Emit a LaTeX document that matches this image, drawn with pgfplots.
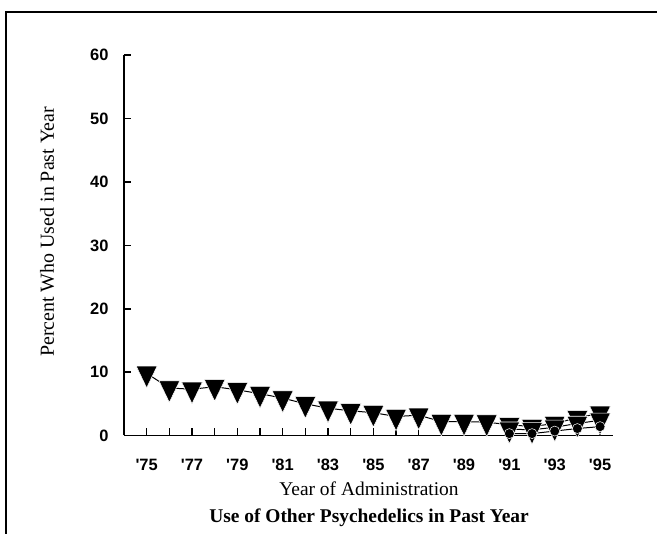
\documentclass[border=0pt]{standalone}
\usepackage{fontspec}
\setmainfont{Liberation Serif}
\newfontfamily\tickfont{Liberation Sans}[Ligatures=TeXOff]
\usepackage{pgfplots}
\pgfplotsset{compat=1.18}
\begin{document}
\begin{tikzpicture}[x=1bp,y=1bp]
\path[use as bounding box] (0,0) rectangle (657,534);
\draw[line width=2.4bp] (6,0) -- (6,522) -- (657,522);
\begin{axis}[
  at={(124bp,98.5bp)}, anchor=south west,
  scale only axis, width=488.5bp, height=380.2bp,
  xmin=1974.0, xmax=1995.55, ymin=0, ymax=60,
  axis lines*=left,
  axis line style={line width=1.8bp},
  tick align=inside,
  major tick length=7bp, minor tick length=7bp,
  tick style={line width=1.6bp, black},
  xtick={1975,1977,...,1995},
  minor xtick={1976,1978,...,1994},
  xticklabels={'75,'77,'79,'81,'83,'85,'87,'89,'91,'93,'95},
  ytick={0,10,...,60},
  yticklabels={0,10,20,30,40,50,60},
  ticklabel style={font=\tickfont\bfseries\fontsize{16.5}{18}\selectfont},
  xticklabel style={yshift=-20bp},
  yticklabel style={xshift=-12bp},
  clip=false,
]
\addplot[black, line width=1bp, mark=triangle*, mark size=12bp,
  mark options={rotate=180, yscale=1.2, fill=black, draw=white, line width=0.5bp}]
  coordinates {(1975,9.8) (1976,7.5) (1977,7.3) (1978,7.7) (1979,7.2) (1980,6.6)
  (1981,5.9) (1982,5.0) (1983,4.3) (1984,3.9) (1985,3.6) (1986,3.0) (1987,3.2)
  (1988,2.2) (1989,2.2) (1990,2.1) (1991,1.7) (1992,1.4) (1993,1.9) (1994,2.8) (1995,3.5)};
\addplot[black, line width=1bp, mark=triangle*, mark size=12bp,
  mark options={rotate=180, yscale=1.2, fill=black, draw=white, line width=0.6bp}]
  coordinates {(1991,1.0) (1992,0.9) (1993,1.3) (1994,1.9) (1995,2.4)};
\addplot[black, line width=1bp, mark=*, mark size=5bp,
  mark options={fill=black, draw=white, line width=0.5bp}]
  coordinates {(1991,0.3) (1992,0.3) (1993,0.7) (1994,1.1) (1995,1.4)};
\end{axis}
\node[rotate=90, font=\fontsize{20}{23}\selectfont] at (47,302) {Percent Who Used in Past Year};
\node[font=\fontsize{19.5}{22}\selectfont] at (369,45) {Year of Administration};
\node[font=\bfseries\fontsize{19.5}{22}\selectfont] at (369,16) {Use of Other Psychedelics in Past Year};
\end{tikzpicture}
\end{document}
